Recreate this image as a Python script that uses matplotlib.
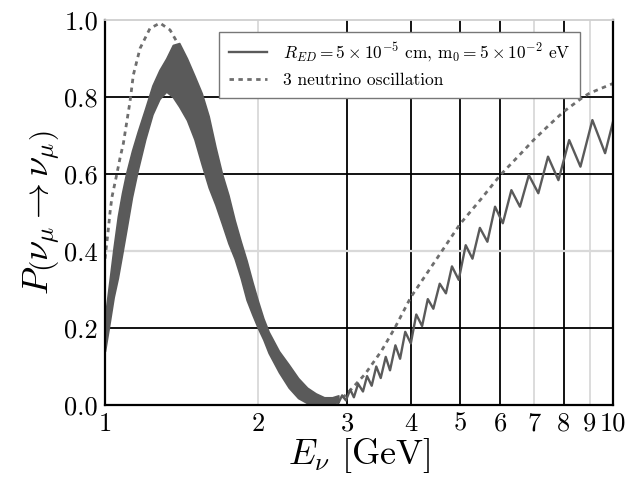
import numpy as np
import matplotlib as mpl
mpl.use("Agg")
import matplotlib.pyplot as plt
from matplotlib.lines import Line2D

mpl.rcParams["font.family"] = "serif"
mpl.rcParams["font.serif"] = ["cmr10", "DejaVu Serif"]
mpl.rcParams["mathtext.fontset"] = "cm"
mpl.rcParams["axes.formatter.use_mathtext"] = True

# 3 neutrino oscillation (dashed curve)
osc_E = [1.00, 1.014, 1.023, 1.032, 1.054, 1.070, 1.087, 1.12, 1.137, 1.172, 1.226, 1.283,
         1.343, 1.384, 1.42, 1.45, 1.50, 1.55, 1.60, 1.65, 1.70, 1.75, 1.80, 1.85, 1.90, 1.95,
         2.00, 2.05, 2.10, 2.20, 2.30, 2.40, 2.50, 2.60, 2.70, 2.80, 2.90, 3.00, 3.25,
         3.50, 3.72, 4.00, 4.50, 5.00, 5.50, 6.00, 6.50, 7.00, 7.50, 8.00, 8.74, 9.00, 10.0]
osc_P = [0.38, 0.45, 0.50, 0.54, 0.597, 0.64, 0.68, 0.788, 0.857, 0.926, 0.978, 0.992,
         0.974, 0.944, 0.89, 0.84, 0.77, 0.72, 0.66, 0.595, 0.535, 0.48, 0.43, 0.38, 0.325, 0.28,
         0.235, 0.20, 0.16, 0.11, 0.075, 0.045, 0.022, 0.008, 0.002, 0.003, 0.012, 0.03, 0.08,
         0.14, 0.20, 0.28, 0.38, 0.47, 0.535, 0.597, 0.645, 0.69, 0.728, 0.762, 0.80, 0.81, 0.835]

# extra-dimension curve: fast oscillation seen as a band below ~2.9 GeV
band_E = [1.00, 1.02, 1.04, 1.06, 1.08, 1.10, 1.13, 1.16, 1.20, 1.24, 1.28, 1.32, 1.36,
          1.40, 1.45, 1.50, 1.55, 1.60, 1.65, 1.70, 1.75, 1.80, 1.85, 1.90, 1.95, 2.00,
          2.05, 2.10, 2.20, 2.30, 2.40, 2.50, 2.60, 2.70, 2.80, 2.88]
band_hi = [0.23, 0.32, 0.41, 0.49, 0.55, 0.60, 0.66, 0.71, 0.77, 0.83, 0.87, 0.90, 0.935,
           0.94, 0.90, 0.855, 0.81, 0.75, 0.67, 0.60, 0.545, 0.48, 0.425, 0.375, 0.32, 0.27,
           0.225, 0.19, 0.14, 0.105, 0.07, 0.045, 0.03, 0.02, 0.02, 0.025]
band_lo = [0.14, 0.21, 0.28, 0.33, 0.39, 0.45, 0.54, 0.61, 0.69, 0.755, 0.795, 0.814, 0.80,
           0.775, 0.74, 0.69, 0.625, 0.565, 0.52, 0.47, 0.42, 0.38, 0.33, 0.273, 0.235, 0.20,
           0.17, 0.135, 0.085, 0.045, 0.018, 0.005, 0.0, 0.0, 0.004, 0.008]

# wiggles above ~2.8 GeV: local maxima and minima
peak_E = [2.83, 2.93, 3.04, 3.15, 3.28, 3.42, 3.57, 3.73, 3.90, 4.10, 4.32, 4.56, 4.82,
          5.13, 5.47, 5.86, 6.31, 6.83, 7.45, 8.20, 9.11, 10.0]
peak_P = [0.015, 0.025, 0.04, 0.055, 0.075, 0.10, 0.125, 0.155, 0.19, 0.235, 0.275, 0.315,
          0.36, 0.415, 0.46, 0.515, 0.558, 0.597, 0.645, 0.688, 0.740, 0.735]
trough_E = [2.88, 2.98, 3.09, 3.22, 3.35, 3.49, 3.64, 3.81, 4.00, 4.21, 4.43, 4.69, 4.97,
            5.29, 5.66, 6.07, 6.56, 7.13, 7.81, 8.63, 9.65]
trough_P = [0.005, 0.012, 0.02, 0.035, 0.05, 0.07, 0.09, 0.12, 0.16, 0.205, 0.25, 0.29,
            0.325, 0.38, 0.424, 0.472, 0.515, 0.55, 0.584, 0.619, 0.654]

label_ed = r"$R_{ED}=5\times10^{-5}$ cm, m$_0=5\times10^{-2}$ eV"
label_osc = "3 neutrino oscillation"

solid_c = "#5a5a5a"
dash_c = "#6e6e6e"

fig = plt.figure(figsize=(6.31, 4.87), dpi=100)
ax = fig.add_axes([0.1664, 0.1684, 0.805, 0.7906])

# grid: some lines dark, some light, as in the picture
for x in [2, 7, 9]:
    ax.axvline(x, color="#d9d9d9", lw=1.3, zorder=0)
for x in [3, 4, 5, 6, 8]:
    ax.axvline(x, color="black", lw=1.3, zorder=0)
ax.axhline(0.4, color="#d9d9d9", lw=1.6, zorder=0)
for y in [0.2, 0.6, 0.8]:
    ax.axhline(y, color="black", lw=1.3, zorder=0)

ax.fill_between(band_E, band_lo, band_hi, color=solid_c, edgecolor=solid_c, lw=1.2, zorder=2)

wig_E = np.array(peak_E + trough_E)
wig_P = np.array(peak_P + trough_P)
order = np.argsort(wig_E)
ax.plot(wig_E[order], wig_P[order], color=solid_c, lw=1.7, zorder=2)

ax.plot(osc_E, osc_P, color=dash_c, lw=2.0, ls=(0, (1.6, 1.6)), zorder=1)

ax.set_xscale("log")
ax.set_xlim(1, 10)
ax.set_ylim(0, 1)
ticks_x = [1, 2, 3, 4, 5, 6, 7, 8, 9, 10]
ax.set_xticks(ticks_x)
ax.set_xticklabels([str(t) for t in ticks_x])
ax.xaxis.set_minor_locator(mpl.ticker.NullLocator())
ax.set_yticks([0.0, 0.2, 0.4, 0.6, 0.8, 1.0])
ax.set_yticklabels(["0.0", "0.2", "0.4", "0.6", "0.8", "1.0"])
ax.tick_params(labelsize=19, length=0, pad=5)

for s in ["left", "bottom", "right"]:
    ax.spines[s].set_linewidth(1.6)
ax.spines["top"].set_color("#cfcfcf")
ax.spines["top"].set_linewidth(1.3)

ax.set_xlabel(r"$E_\nu$ [GeV]", fontsize=26, labelpad=0)
ax.set_ylabel(r"$P\left(\nu_\mu\rightarrow\nu_\mu\right)$", fontsize=26, labelpad=2)

handles = [Line2D([], [], color=solid_c, lw=1.7),
           Line2D([], [], color=dash_c, lw=2.0, ls=(0, (1.6, 1.6)))]
leg = ax.legend(handles, [label_ed, label_osc], loc="upper right",
                bbox_to_anchor=(0.935, 0.97), borderaxespad=0, fontsize=12.5,
                fancybox=False, framealpha=1, edgecolor="#777777",
                handlelength=2.2, handletextpad=0.9, labelspacing=0.5, borderpad=0.55)
leg.get_frame().set_linewidth(1.0)

plt.savefig("out.png", dpi=100)
